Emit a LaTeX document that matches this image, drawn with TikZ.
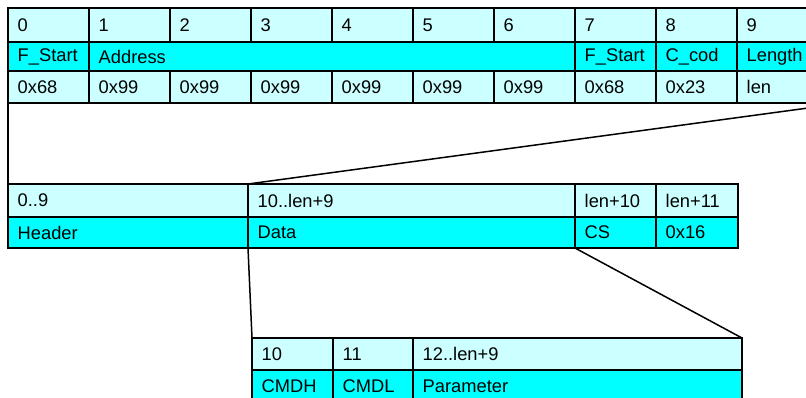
\documentclass[tikz,border=0pt]{standalone}
\usepackage{fontspec}
\setmainfont{Liberation Sans}
\definecolor{lightcy}{HTML}{CCFFFF}
\definecolor{fullcy}{HTML}{00FFFF}
\tikzset{
  cellst/.style={draw=black, line width=1.5pt, rectangle, anchor=north west, inner sep=0pt, outer sep=0pt},
  celltxt/.style={anchor=west, inner sep=0pt, font=\fontsize{18.3}{20}\selectfont},
  conn/.style={draw=black, line width=1.5pt}
}
% name, x, y, width, height, fill, text
\newcommand\mycell[7]{%
  \node[cellst, fill=#6, minimum width=#4pt, minimum height=#5pt] (#1) at (#2,#3) {};
  \node[celltxt] (#1-t) at ([xshift=9.5pt]#1.west) {#7};
}
\begin{document}
\begin{tikzpicture}[x=1pt,y=-1pt]
\useasboundingbox (0,0) rectangle (806,397);
\clip (0,0) rectangle (806,397);
% top table, row 1
\mycell{a0}{8}{8}{81}{34}{lightcy}{0}
\mycell{a1}{89}{8}{81}{34}{lightcy}{1}
\mycell{a2}{170}{8}{81}{34}{lightcy}{2}
\mycell{a3}{251}{8}{81}{34}{lightcy}{3}
\mycell{a4}{332}{8}{81}{34}{lightcy}{4}
\mycell{a5}{413}{8}{81}{34}{lightcy}{5}
\mycell{a6}{494}{8}{81}{34}{lightcy}{6}
\mycell{a7}{575}{8}{81}{34}{lightcy}{7}
\mycell{a8}{656}{8}{81}{34}{lightcy}{8}
\mycell{a9}{737}{8}{108}{34}{lightcy}{9}
% row 2
\mycell{b0}{8}{42}{81}{29}{fullcy}{F\_Start}
\mycell{b1}{89}{42}{486}{29}{fullcy}{Address}
\mycell{b7}{575}{42}{81}{29}{fullcy}{F\_Start}
\mycell{b8}{656}{42}{81}{29}{fullcy}{C\_cod}
\mycell{b9}{737}{42}{108}{29}{fullcy}{Length}
% row 3
\mycell{c0}{8}{71}{81}{32}{lightcy}{0x68}
\mycell{c1}{89}{71}{81}{32}{lightcy}{0x99}
\mycell{c2}{170}{71}{81}{32}{lightcy}{0x99}
\mycell{c3}{251}{71}{81}{32}{lightcy}{0x99}
\mycell{c4}{332}{71}{81}{32}{lightcy}{0x99}
\mycell{c5}{413}{71}{81}{32}{lightcy}{0x99}
\mycell{c6}{494}{71}{81}{32}{lightcy}{0x99}
\mycell{c7}{575}{71}{81}{32}{lightcy}{0x68}
\mycell{c8}{656}{71}{81}{32}{lightcy}{0x23}
\mycell{c9}{737}{71}{108}{32}{lightcy}{len}
% middle table
\mycell{d0}{8}{184}{240}{33}{lightcy}{0..9}
\mycell{d1}{248}{184}{327}{33}{lightcy}{10..len+9}
\mycell{d2}{575}{184}{81}{33}{lightcy}{len+10}
\mycell{d3}{656}{184}{82}{33}{lightcy}{len+11}
\mycell{e0}{8}{217}{240}{31}{fullcy}{Header}
\mycell{e1}{248}{217}{327}{31}{fullcy}{Data}
\mycell{e2}{575}{217}{81}{31}{fullcy}{CS}
\mycell{e3}{656}{217}{82}{31}{fullcy}{0x16}
% bottom table
\mycell{f0}{252}{338}{81}{32}{lightcy}{10}
\mycell{f1}{333}{338}{80}{32}{lightcy}{11}
\mycell{f2}{413}{338}{329}{32}{lightcy}{12..len+9}
\mycell{g0}{252}{370}{81}{32}{fullcy}{CMDH}
\mycell{g1}{333}{370}{80}{32}{fullcy}{CMDL}
\mycell{g2}{413}{370}{329}{32}{fullcy}{Parameter}
% connectors
\draw[conn] (c0.south west) -- (d0.north west);
\draw[conn] (c9.south east) -- (d1.north west);
\draw[conn] (e1.south west) -- (f0.north west);
\draw[conn] (e2.south west) -- (f2.north east);
\end{tikzpicture}
\end{document}
